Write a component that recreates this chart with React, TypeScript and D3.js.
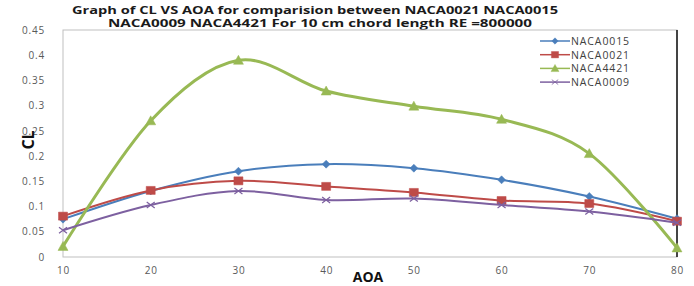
// CL vs AOA comparison chart for four NACA sections
import * as d3 from 'd3';
import React, { useEffect, useRef } from 'react';

const aoa = [10, 20, 30, 40, 50, 60, 70, 80];
const naca0015 = [0.075, 0.131, 0.17, 0.184, 0.176, 0.153, 0.12, 0.076];
const naca0021 = [0.081, 0.132, 0.151, 0.14, 0.128, 0.112, 0.106, 0.071];
const naca4421 = [0.021, 0.27, 0.39, 0.329, 0.299, 0.273, 0.205, 0.018];
const naca0009 = [0.053, 0.103, 0.131, 0.113, 0.116, 0.103, 0.09, 0.068];
const yTicks = [0, 0.05, 0.1, 0.15, 0.2, 0.25, 0.3, 0.35, 0.4, 0.45];
const titleLines = [
  'Graph of CL VS AOA for comparision  between NACA0021 NACA0015',
  'NACA0009 NACA4421 For 10 cm chord length  RE =800000'
];

const series = [
  { name: 'NACA0015', values: naca0015, color: '#4a7ebb', marker: 'diamond', width: 2 },
  { name: 'NACA0021', values: naca0021, color: '#be4b48', marker: 'square', width: 2 },
  { name: 'NACA4421', values: naca4421, color: '#98b954', marker: 'triangle', width: 3 },
  { name: 'NACA0009', values: naca0009, color: '#7d60a0', marker: 'cross', width: 2 }
];

const App = () => {
  const svgRef = useRef(null);

  useEffect(() => {
    const svg = d3.select(svgRef.current);
    svg.selectAll('*').remove();

    const x = d3.scaleLinear().domain([10, 80]).range([63, 677]);
    const y = d3.scaleLinear().domain([0, 0.45]).range([257, 30]);

    const font = "'Open Sans', 'DejaVu Sans', sans-serif";

    // title
    svg
      .selectAll('.title')
      .data(titleLines)
      .enter()
      .append('text')
      .attr('class', 'title')
      .attr('x', (d, i) => (i === 0 ? 72 : 108))
      .attr('y', (d, i) => 14 + i * 12.5)
      .attr('textLength', (d, i) => (i === 0 ? 486 : 424))
      .attr('lengthAdjust', 'spacingAndGlyphs')
      .attr('font-family', font)
      .attr('font-weight', 'bold')
      .attr('font-size', '10px')
      .attr('fill', '#1a1a1a')
      .text((d) => d);

    // plot area frame
    svg
      .append('rect')
      .attr('x', x(10))
      .attr('y', y(0.45))
      .attr('width', x(80) - x(10))
      .attr('height', y(0) - y(0.45))
      .attr('fill', 'none')
      .attr('stroke', '#bfbfbf')
      .attr('stroke-width', 1);

    svg
      .append('line')
      .attr('x1', x(80))
      .attr('x2', x(80))
      .attr('y1', y(0.45))
      .attr('y2', y(0))
      .attr('stroke', '#111')
      .attr('stroke-width', 1.5);

    // y axis
    const yAxis = svg
      .append('g')
      .attr('transform', `translate(${x(10)},0)`)
      .call(
        d3
          .axisLeft(y)
          .tickValues(yTicks)
          .tickSize(0)
          .tickPadding(18)
          .tickFormat((d) => String(+d.toFixed(2)))
      );
    yAxis.select('.domain').remove();
    yAxis
      .selectAll('text')
      .attr('font-family', font)
      .attr('font-size', '10px')
      .attr('letter-spacing', '0.8px')
      .attr('fill', '#595959');

    // x axis
    const xAxis = svg
      .append('g')
      .attr('transform', `translate(0,${y(0)})`)
      .call(d3.axisBottom(x).tickValues(aoa).tickSize(0).tickPadding(10));
    xAxis.select('.domain').remove();
    xAxis
      .selectAll('text')
      .attr('font-family', font)
      .attr('font-size', '10px')
      .attr('letter-spacing', '0.8px')
      .attr('fill', '#595959');

    // axis titles
    svg
      .append('text')
      .attr('transform', 'translate(34,140) rotate(-90)')
      .attr('text-anchor', 'middle')
      .attr('font-family', font)
      .attr('font-weight', 'bold')
      .attr('font-size', '16px')
      .attr('fill', '#111')
      .text('CL');

    svg
      .append('text')
      .attr('x', 368)
      .attr('y', 282)
      .attr('text-anchor', 'middle')
      .attr('font-family', font)
      .attr('font-weight', 'bold')
      .attr('font-size', '14px')
      .attr('fill', '#111')
      .text('AOA');

    const markerPath = (type, cx, cy) => {
      if (type === 'diamond') return `M${cx},${cy - 4}L${cx + 4},${cy}L${cx},${cy + 4}L${cx - 4},${cy}Z`;
      if (type === 'square') return `M${cx - 4.5},${cy - 4}h9v8h-9Z`;
      if (type === 'triangle') return `M${cx},${cy - 5}L${cx + 5},${cy + 4}L${cx - 5},${cy + 4}Z`;
      return `M${cx - 4},${cy - 3}L${cx + 4},${cy + 3}M${cx - 4},${cy + 3}L${cx + 4},${cy - 3}`;
    };

    const line = d3
      .line()
      .x((d) => x(d[0]))
      .y((d) => y(d[1]))
      .curve(d3.curveCardinal.tension(0));

    // series lines + markers
    series.forEach((s) => {
      const pts = aoa.map((a, i) => [a, s.values[i]]);
      svg
        .append('path')
        .attr('d', line(pts))
        .attr('fill', 'none')
        .attr('stroke', s.color)
        .attr('stroke-width', s.width);

      svg
        .append('g')
        .selectAll('path')
        .data(pts)
        .enter()
        .append('path')
        .attr('d', (d) => markerPath(s.marker, x(d[0]), y(d[1])))
        .attr('fill', s.marker === 'cross' ? 'none' : s.color)
        .attr('stroke', s.color)
        .attr('stroke-width', s.marker === 'cross' ? 1.2 : 0.5);
    });

    // legend
    const legend = svg
      .append('g')
      .selectAll('g')
      .data(series)
      .enter()
      .append('g')
      .attr('transform', (d, i) => `translate(540,${41 + i * 13.7})`);

    legend
      .append('line')
      .attr('x1', 0)
      .attr('x2', 30)
      .attr('stroke', (d) => d.color)
      .attr('stroke-width', 1.5);

    legend
      .append('path')
      .attr('d', (d) => markerPath(d.marker, 15, 0))
      .attr('fill', (d) => (d.marker === 'cross' ? 'none' : d.color))
      .attr('stroke', (d) => d.color)
      .attr('stroke-width', (d) => (d.marker === 'cross' ? 1 : 0.5))
      .attr('transform', 'translate(15,0) scale(0.8) translate(-15,0)');

    legend
      .append('text')
      .attr('x', 31)
      .attr('y', 4)
      .attr('font-family', font)
      .attr('font-size', '10.5px')
      .attr('letter-spacing', '0.9px')
      .attr('fill', '#404040')
      .text((d) => d.name);
  }, []);

  return (
    <svg
      ref={svgRef}
      width={694}
      height={286}
      style={{ position: 'absolute', top: 0, left: 0, background: '#fff' }}
    ></svg>
  );
};

export default App;
